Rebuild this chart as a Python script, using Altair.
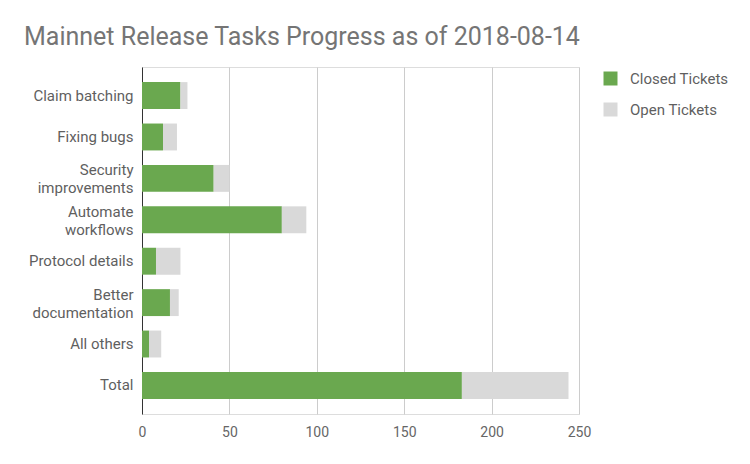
import altair as alt
import pandas as pd

categories = ["Claim batching", "Fixing bugs", "Security\nimprovements", "Automate\nworkflows",
              "Protocol details", "Better\ndocumentation", "All others", "Total"]
closed = [22, 12, 41, 80, 8, 16, 4, 183]
open_ = [4, 8, 9, 14, 14, 5, 7, 61]
series = ["Closed Tickets", "Open Tickets"]
x_ticks = [0, 50, 100, 150, 200, 250]

rows = []
for c, cl, op in zip(categories, closed, open_):
    rows.append({"cat": c, "type": series[0], "start": 0, "end": cl})
    rows.append({"cat": c, "type": series[1], "start": cl, "end": cl + op})
df = pd.DataFrame(rows)

FONT = "Roboto"

chart = alt.Chart(df).mark_bar().encode(
    y=alt.Y("cat:N", sort=categories, title=None,
            scale=alt.Scale(paddingInner=0.35, paddingOuter=0.365),
            axis=alt.Axis(labelExpr="split(datum.label, '\\n')", labelFont=FONT, labelFontSize=15,
                          labelColor="#5f5f5f", ticks=False, domain=True, domainColor="#333333",
                          domainWidth=1, labelPadding=9, labelLineHeight=18, grid=False,
                          labelLimit=200,
                          labelOffset={"condition": {"test": "indexof(datum.label, '\\n') >= 0",
                                                     "value": -8}, "value": 0})),
    x=alt.X("start:Q", title=None,
            scale=alt.Scale(domain=[0, 250], nice=False),
            axis=alt.Axis(values=x_ticks, labelFont=FONT, labelFontSize=14, labelColor="#666666",
                          ticks=False, domain=False, grid=True, gridColor="#cccccc",
                          labelPadding=11, labelFlush=False)),
    x2="end:Q",
    color=alt.Color("type:N", sort=series,
                    scale=alt.Scale(domain=series, range=["#6aa84f", "#d9d9d9"]),
                    legend=alt.Legend(title=None, orient="none", legendX=461, legendY=4,
                                      symbolType="square", symbolSize=196, symbolStrokeWidth=0,
                                      labelFont=FONT, labelFontSize=15, labelColor="#5f5f5f",
                                      rowPadding=15, labelOffset=12)),
).properties(
    width=437, height=347,
    title=alt.TitleParams("Mainnet Release Tasks Progress as of 2018-08-14", anchor="start",
                          frame="group", dx=-118, offset=17, font=FONT, fontSize=25,
                          fontWeight="normal", color="#757575"),
    autosize=alt.AutoSizeParams(type="none"),
    padding={"left": 134, "top": 59, "right": 163, "bottom": 42},
).configure_view(strokeWidth=0).configure(background="white")

chart.save("out.html", embed_options={"renderer": "svg", "actions": False})
